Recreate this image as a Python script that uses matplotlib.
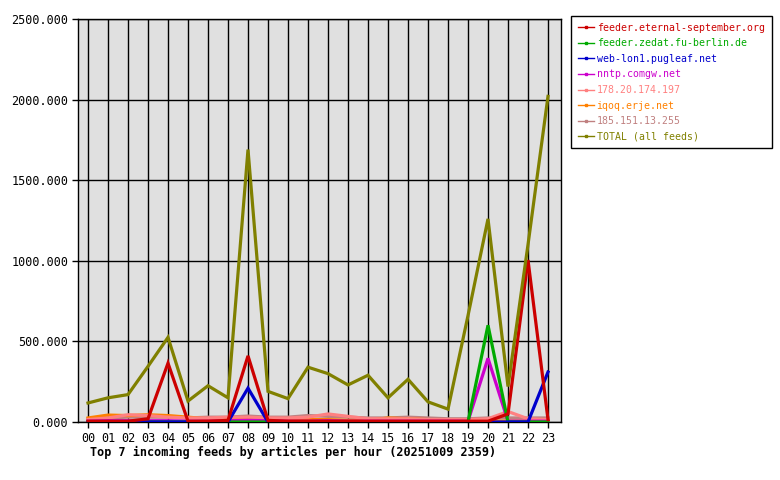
import numpy as np
import matplotlib.pyplot as plt
from matplotlib.lines import Line2D

hours = ["%02d" % h for h in range(24)]

feeds = ["feeder.eternal-september.org", "feeder.zedat.fu-berlin.de",
         "web-lon1.pugleaf.net", "nntp.comgw.net", "178.20.174.197",
         "iqoq.erje.net", "185.151.13.255", "TOTAL (all feeds)"]
colors = ["#cc0000", "#00aa00", "#0000cc", "#cc00cc", "#ff8080",
          "#ff8000", "#c08080", "#808000"]

eternal = [5, 5, 5, 20, 365, 5, 5, 10, 410, 10, 5, 5, 5, 5, 5, 5, 5, 5, 5, 5, 5, 50, 1005, 15]
zedat = [0, 0, 0, 0, 0, 0, 0, 0, 0, 0, 0, 0, 0, 0, 0, 0, 0, 0, 0, 0, 600, 0, 0, 0]
pugleaf = [0, 0, 0, 0, 0, 0, 0, 0, 210, 0, 0, 0, 0, 0, 0, 0, 0, 0, 0, 0, 0, 0, 0, 310]
comgw = [5, 8, 8, 8, 8, 5, 5, 8, 10, 8, 5, 5, 8, 5, 5, 5, 5, 5, 5, 5, 395, 5, 5, 5]
ip178 = [15, 25, 45, 40, 30, 25, 25, 30, 30, 25, 25, 30, 50, 35, 20, 20, 20, 15, 15, 15, 20, 65, 20, 15]
iqoq = [25, 43, 40, 45, 40, 30, 20, 20, 15, 20, 15, 15, 15, 10, 10, 25, 20, 15, 10, 5, 5, 5, 5, 5]
ip185 = [20, 25, 30, 30, 30, 25, 30, 30, 37, 30, 30, 40, 35, 30, 25, 25, 30, 25, 20, 20, 25, 25, 25, 25]
total = [118, 150, 170, 345, 525, 130, 225, 150, 1690, 190, 145, 340, 300, 230, 290, 150, 265, 125, 80, 660, 1260, 220, 1100, 2020]

series = [eternal, zedat, pugleaf, comgw, ip178, iqoq, ip185, total]

fig = plt.figure(figsize=(7.8, 4.8), dpi=100)
ax = fig.add_axes([78/780, 1-422/480, (561-78)/780, (422-19)/480])
ax.set_facecolor("#e0e0e0")

x = np.arange(24)
# small feeds first, big ones and the total on top
order = [6, 5, 4, 3, 1, 2, 0, 7]
for i in order:
    ax.plot(x, series[i], color=colors[i], lw=2.3, zorder=3, solid_joinstyle="miter")

ax.set_xlim(-0.5, 23.65)
ax.set_ylim(0, 2500)
ax.set_xticks(x)
ax.set_xticklabels(hours)
ax.set_yticks(np.arange(0, 2501, 500))
ax.set_yticklabels(["%.3f" % v for v in np.arange(0, 2501, 500)])
ax.grid(True, color="black", lw=1, zorder=1)
ax.set_axisbelow(True)
for s in ax.spines.values():
    s.set_color("black")
    s.set_linewidth(1)
ax.tick_params(labelsize=8.5, length=4, width=1, color="black", pad=3)
for lab in ax.get_xticklabels() + ax.get_yticklabels():
    lab.set_family("DejaVu Sans Mono")

fig.text(90/780, 1-452/480, "Top 7 incoming feeds by articles per hour (20251009 2359)",
         family="DejaVu Sans Mono", fontweight="bold", fontsize=8.5, va="center")

handles = [Line2D([0], [0], color=c, lw=1, marker="s", markersize=2) for c in colors]
leg = fig.legend(handles, feeds, loc="upper left", bbox_to_anchor=(571/780, 1-16/480),
                 prop={"family": "DejaVu Sans Mono", "size": 7.1}, labelcolor=colors,
                 fancybox=False, edgecolor="black", framealpha=1, handlelength=1.6,
                 handletextpad=0.3, labelspacing=0.56, borderpad=0.7, borderaxespad=0)
leg.get_frame().set_linewidth(1)

fig.savefig("out.png", dpi=100)
